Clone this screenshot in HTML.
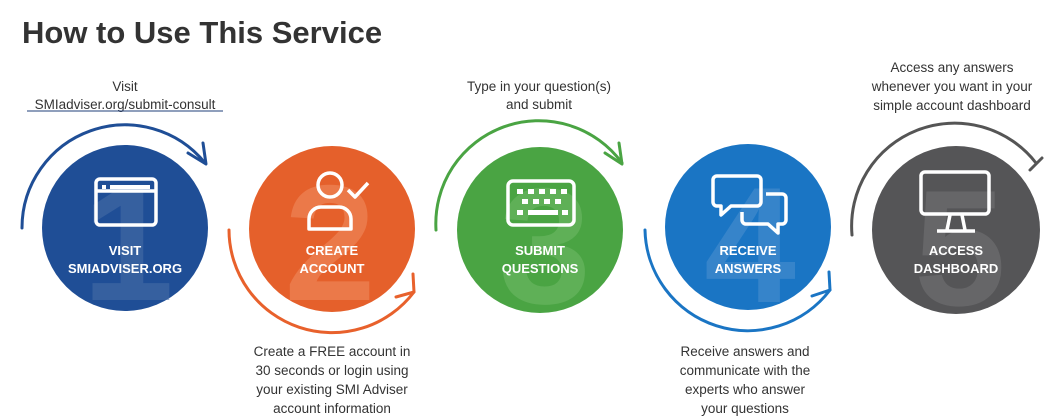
<!DOCTYPE html>
<html><head><meta charset="utf-8"><style>
html,body{margin:0;padding:0;background:#fff;width:1056px;height:419px;overflow:hidden}
svg{display:block}
.t{font-family:"Liberation Sans",sans-serif;font-size:13.5px;fill:#333;text-anchor:middle}
.w{font-family:"Liberation Sans",sans-serif;font-size:13px;font-weight:bold;fill:#fff;text-anchor:middle}
.n{font-family:"Liberation Sans",sans-serif;font-size:165px;font-weight:bold;text-anchor:middle}
</style></head><body>
<svg width="1056" height="419" viewBox="0 0 1056 419" xmlns="http://www.w3.org/2000/svg">
<text x="22" y="43" font-family="Liberation Sans,sans-serif" font-size="31" font-weight="bold" fill="#333">How to Use This Service</text>

<text class="t" x="125" y="91">Visit</text>
<text class="t" x="125" y="109" fill="#1f3f7a">SMIadviser.org/submit-consult</text>
<line x1="27" y1="111" x2="223" y2="111" stroke="#1f3f7a" stroke-width="1"/>
<text class="t" x="539" y="91">Type in your question(s)</text>
<text class="t" x="539" y="109">and submit</text>
<text class="t" x="952" y="72">Access any answers</text>
<text class="t" x="952" y="91">whenever you want in your</text>
<text class="t" x="952" y="110">simple account dashboard</text>

<text class="t" x="332" y="356">Create a FREE account in</text>
<text class="t" x="332" y="375">30 seconds or login using</text>
<text class="t" x="332" y="394">your existing SMI Adviser</text>
<text class="t" x="332" y="413">account information</text>
<text class="t" x="745" y="356">Receive answers and</text>
<text class="t" x="745" y="375">communicate with the</text>
<text class="t" x="745" y="394">experts who answer</text>
<text class="t" x="745" y="413">your questions</text>

<g fill="none" stroke-width="3" stroke-linecap="round" stroke-linejoin="round">
<path d="M22 228 A103 103 0 0 1 205 163" stroke="#1f4e96"/>
<path d="M188 153 L206 164 L203 143" stroke="#1f4e96"/>
<path d="M229 230 A103 103 0 0 0 414 292" stroke="#e8612c"/>
<path d="M396 297 L414 292 L413 274" stroke="#e8612c"/>
<path d="M436 230 A103 103 0 0 1 622 163" stroke="#4aa443"/>
<path d="M605 153 L622 164 L619 143" stroke="#4aa443"/>
<path d="M645 230 A103 103 0 0 0 830 290" stroke="#1a75c4"/>
<path d="M812 296 L830 290 L829 272" stroke="#1a75c4"/>
<path d="M852 235 A103 103 0 0 1 1036 163" stroke="#555"/>
<path d="M1030 170 L1042 158" stroke="#555"/>
</g>

<circle cx="125" cy="228" r="83" fill="#1f4e96"/>
<circle cx="332" cy="229" r="83" fill="#e5602b"/>
<circle cx="540" cy="230" r="83" fill="#4aa443"/>
<circle cx="748" cy="227" r="83" fill="#1a75c4"/>
<circle cx="956" cy="230" r="84" fill="#555557"/>

<text class="n" x="128" y="300" fill="#4a6fa8" opacity="0.55">1</text>
<text class="n" x="330" y="300" fill="#f08a5e" opacity="0.6">2</text>
<text class="n" x="545" y="303" fill="#6db865" opacity="0.6">3</text>
<text class="n" x="750" y="302" fill="#4a8fcf" opacity="0.6">4</text>
<text class="n" x="960" y="305" fill="#6e6e70" opacity="0.7">5</text>

<g fill="none" stroke="#fff" stroke-width="3.5" stroke-linejoin="round">
<rect x="96" y="179" width="60" height="46" rx="4"/>
<line x1="96" y1="191" x2="156" y2="191"/>
<circle cx="330" cy="185" r="12"/>
<path d="M309 229 v-10 a12 12 0 0 1 12 -12 h18 a12 12 0 0 1 12 12 v10 z"/>
<path d="M348 190 l7 7 l13 -14"/>
<rect x="508" y="181" width="66" height="44" rx="5"/>
<path d="M717 176 h40 a4 4 0 0 1 4 4 v22 a4 4 0 0 1 -4 4 h-26 l-10 9 v-9 h-4 a4 4 0 0 1 -4 -4 v-22 a4 4 0 0 1 4 -4z"/>
<path d="M766 194 h16 a4 4 0 0 1 4 4 v22 a4 4 0 0 1 -4 4 h-4 v9 l-10 -9 h-22 a4 4 0 0 1 -4 -4 v-8"/>
<rect x="921" y="172" width="68" height="42" rx="4"/>
<path d="M950 215 l-3 15 M962 215 l3 15 M937 231 h38"/>
</g>
<g fill="#fff">
<rect x="102" y="185" width="4" height="4"/><rect x="110" y="185" width="40" height="4"/>
<rect x="517" y="189" width="6" height="5"/><rect x="528" y="189" width="6" height="5"/><rect x="539" y="189" width="6" height="5"/><rect x="550" y="189" width="6" height="5"/><rect x="561" y="189" width="6" height="5"/>
<rect x="522" y="199" width="6" height="5"/><rect x="533" y="199" width="6" height="5"/><rect x="544" y="199" width="6" height="5"/><rect x="555" y="199" width="6" height="5"/>
<rect x="517" y="210" width="6" height="5"/><rect x="528" y="210" width="30" height="5"/><rect x="562" y="210" width="6" height="5"/>
</g>

<text class="w" x="125" y="255">VISIT</text>
<text class="w" x="125" y="273">SMIADVISER.ORG</text>
<text class="w" x="332" y="255">CREATE</text>
<text class="w" x="332" y="273">ACCOUNT</text>
<text class="w" x="540" y="255">SUBMIT</text>
<text class="w" x="540" y="273">QUESTIONS</text>
<text class="w" x="748" y="255">RECEIVE</text>
<text class="w" x="748" y="273">ANSWERS</text>
<text class="w" x="956" y="255">ACCESS</text>
<text class="w" x="956" y="273">DASHBOARD</text>
</svg>
</body></html>
